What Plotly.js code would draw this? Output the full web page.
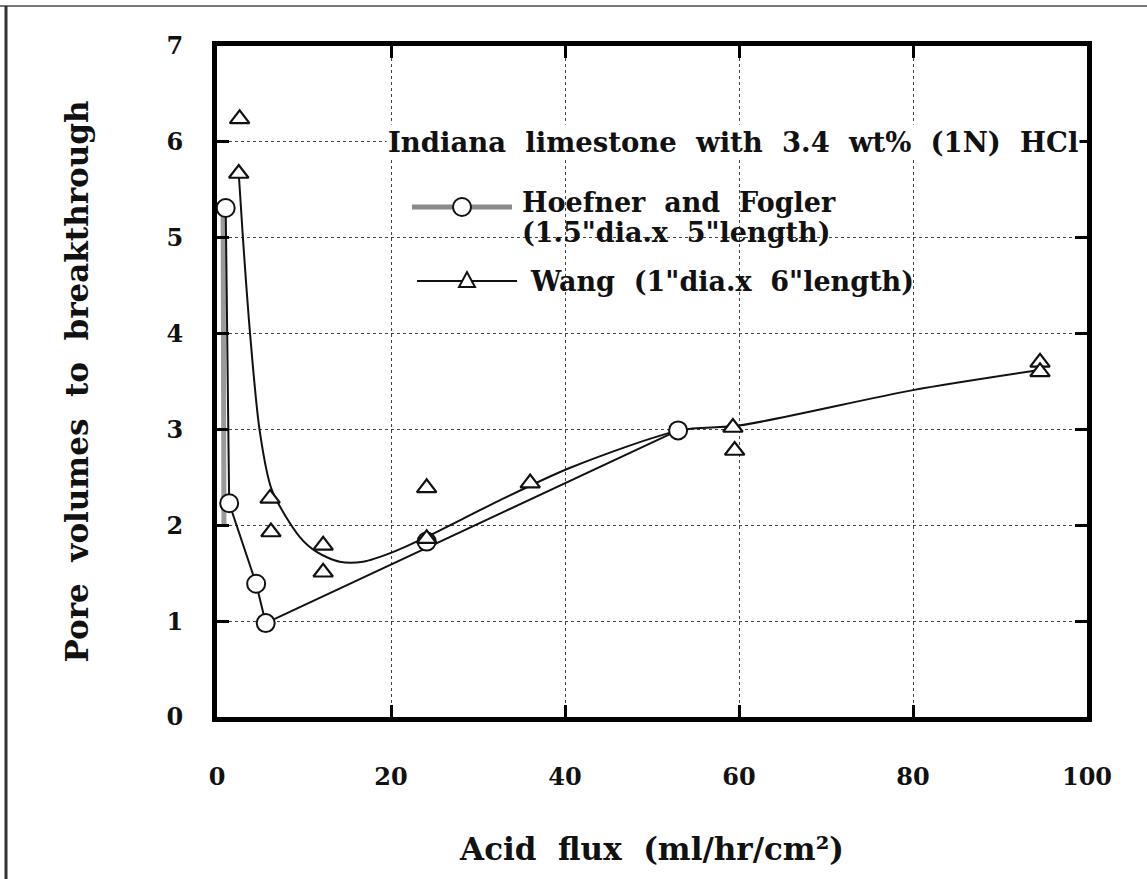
<!DOCTYPE html>
<html>
<head>
<meta charset="utf-8">
<script src="https://cdn.plot.ly/plotly-3.0.1.min.js"></script>
<style>html,body{margin:0;padding:0;background:#fff;}#chart{width:1147px;height:879px;}</style>
</head>
<body>
<div id="chart"></div>
<script>
// ---- Data ----
// Hoefner and Fogler measured points (acid flux, pore volumes)
const hoefnerX = [1.0, 1.4, 4.5, 5.6, 24.1, 53.0];
const hoefnerY = [5.31, 2.23, 1.39, 0.98, 1.83, 2.99];
// Hoefner and Fogler drawn curve
const hoefnerCurveX = [1.0, 1.4, 4.5, 5.6, 53.0];
const hoefnerCurveY = [5.31, 2.23, 1.39, 0.98, 2.99];
// grey band drawn along the axis for the Hoefner curve
const hoefnerBandX = [0.7, 0.8];
const hoefnerBandY = [5.35, 2.0];
// Wang measured points
const wangX = [2.6, 2.5, 6.1, 6.2, 12.2, 12.2, 24.1, 24.1, 36.0, 59.3, 59.5, 94.6, 94.6];
const wangY = [6.24, 5.67, 2.28, 1.93, 1.79, 1.51, 2.39, 1.86, 2.44, 3.02, 2.78, 3.70, 3.60];
// Wang drawn curve
const wangCurveX = [2.5, 3.0, 3.8, 4.9, 6.3, 9.5, 11.5, 14.1, 16.8, 20.2, 24.1, 32.5, 40.6, 53.2, 60, 80, 94.6];
const wangCurveY = [5.67, 4.97, 4.0, 2.99, 2.37, 1.88, 1.72, 1.62, 1.62, 1.72, 1.88, 2.26, 2.6, 2.99, 3.04, 3.41, 3.62];

// tick values / labels
const xTicks = [0, 20, 40, 60, 80, 100];
const yTicks = [0, 1, 2, 3, 4, 5, 6, 7];

const legendTitle = "Indiana\u00a0 limestone\u00a0 with\u00a0 3.4\u00a0 wt%\u00a0 (1N)\u00a0 HCl";
const hoefnerName1 = "Hoefner\u00a0 and\u00a0 Fogler";
const hoefnerName2 = "(1.5\"dia.x\u00a0 5\"length)";
const wangName = "Wang\u00a0 (1\"dia.x\u00a0 6\"length)";

const serif = "DejaVu Serif";

// ---- geometry helpers (page pixels -> paper) ----
const L = 217, R = 1087, T = 46, B = 717;
const px = v => (v - L) / (R - L);
const py = v => (B - v) / (B - T);

const traces = [
  { x: hoefnerBandX, y: hoefnerBandY, mode: 'lines', line: { color: '#9a9a9a', width: 5 }, showlegend: false, hoverinfo: 'skip' },
  { x: hoefnerCurveX, y: hoefnerCurveY, mode: 'lines', line: { color: '#111', width: 2 }, showlegend: false, hoverinfo: 'skip' },
  { x: wangCurveX, y: wangCurveY, mode: 'lines', line: { color: '#111', width: 2, shape: 'spline', smoothing: 0.8 }, showlegend: false, hoverinfo: 'skip' },
  { x: hoefnerX, y: hoefnerY, mode: 'markers', name: 'Hoefner and Fogler',
    marker: { symbol: 'circle', size: 18, color: 'white', line: { color: '#111', width: 2 } }, showlegend: false },
  { x: wangX, y: wangY, mode: 'markers', name: 'Wang',
    marker: { symbol: 'triangle-up', size: 17, color: 'white', line: { color: '#111', width: 2.2 } }, showlegend: false }
];

const axisCommon = {
  showline: true, linewidth: 5, linecolor: '#000', mirror: 'ticks',
  ticks: 'inside', ticklen: 12, tickwidth: 3, tickcolor: '#000',
  showgrid: true, gridcolor: '#444', gridwidth: 1, griddash: 'dot',
  zeroline: false,
  tickfont: { family: serif, size: 24, color: '#111', weight: 'bold' }
};

const layout = {
  width: 1147, height: 879,
  margin: { l: L, r: 1147 - R, t: T, b: 879 - B },
  paper_bgcolor: 'white', plot_bgcolor: 'white',
  showlegend: false,
  xaxis: Object.assign({}, axisCommon, {
    range: [0, 100], tickvals: xTicks, ticktext: xTicks.map(String),
    ticklabelstandoff: 34,
    title: { text: "Acid\u00a0 flux\u00a0 (ml/hr/cm\u00b2)", font: { family: serif, size: 31, color: '#111', weight: 'bold' }, standoff: 50 }
  }),
  yaxis: Object.assign({}, axisCommon, {
    range: [0, 7], tickvals: yTicks, ticktext: yTicks.map(String),
    ticklabelstandoff: 24,
    title: { text: "Pore\u00a0 volumes\u00a0 to\u00a0 breakthrough", font: { family: serif, size: 31, color: '#111', weight: 'bold' }, standoff: 70 }
  }),
  shapes: [
    // white box behind the key
    { type: 'rect', xref: 'paper', yref: 'paper', x0: px(398), x1: px(955), y0: py(305), y1: py(160),
      fillcolor: 'white', line: { width: 0 }, layer: 'between' },
    // key samples
    { type: 'line', xref: 'paper', yref: 'paper', x0: px(412), x1: px(512), y0: py(207), y1: py(207),
      line: { color: '#8a8a8a', width: 5 } },
    { type: 'circle', xref: 'paper', yref: 'paper', xsizemode: 'pixel', ysizemode: 'pixel',
      xanchor: px(462), yanchor: py(207), x0: -9, x1: 9, y0: -9, y1: 9,
      fillcolor: 'white', line: { color: '#111', width: 2 } },
    { type: 'line', xref: 'paper', yref: 'paper', x0: px(417), x1: px(517), y0: py(281), y1: py(281),
      line: { color: '#111', width: 2 } },
    { type: 'path', xref: 'paper', yref: 'paper', xsizemode: 'pixel', ysizemode: 'pixel',
      xanchor: px(467), yanchor: py(281), path: 'M-8,-6 L8,-6 L0,9 Z',
      fillcolor: 'white', line: { color: '#111', width: 2 } },
    // scanned page edges
    { type: 'line', xref: 'paper', yref: 'paper', x0: px(0), x1: px(1147), y0: py(6), y1: py(6),
      line: { color: '#777', width: 2 } },
    { type: 'line', xref: 'paper', yref: 'paper', x0: px(6), x1: px(6), y0: py(6), y1: py(879),
      line: { color: '#333', width: 3 } }
  ],
  annotations: [
    { xref: 'paper', yref: 'paper', x: px(386), y: py(142), xanchor: 'left', yanchor: 'middle', showarrow: false,
      text: legendTitle, bgcolor: 'white', font: { family: serif, size: 27.5, color: '#111', weight: 'bold' } },
    { xref: 'paper', yref: 'paper', x: px(520), y: py(203), xanchor: 'left', yanchor: 'middle', showarrow: false,
      text: hoefnerName1, font: { family: serif, size: 27, color: '#111', weight: 'bold' } },
    { xref: 'paper', yref: 'paper', x: px(520), y: py(233), xanchor: 'left', yanchor: 'middle', showarrow: false,
      text: hoefnerName2, font: { family: serif, size: 27, color: '#111', weight: 'bold' } },
    { xref: 'paper', yref: 'paper', x: px(528), y: py(281), xanchor: 'left', yanchor: 'middle', showarrow: false,
      text: wangName, font: { family: serif, size: 27, color: '#111', weight: 'bold' } }
  ]
};

Plotly.newPlot('chart', traces, layout, { staticPlot: true, displayModeBar: false });
</script>
</body>
</html>
